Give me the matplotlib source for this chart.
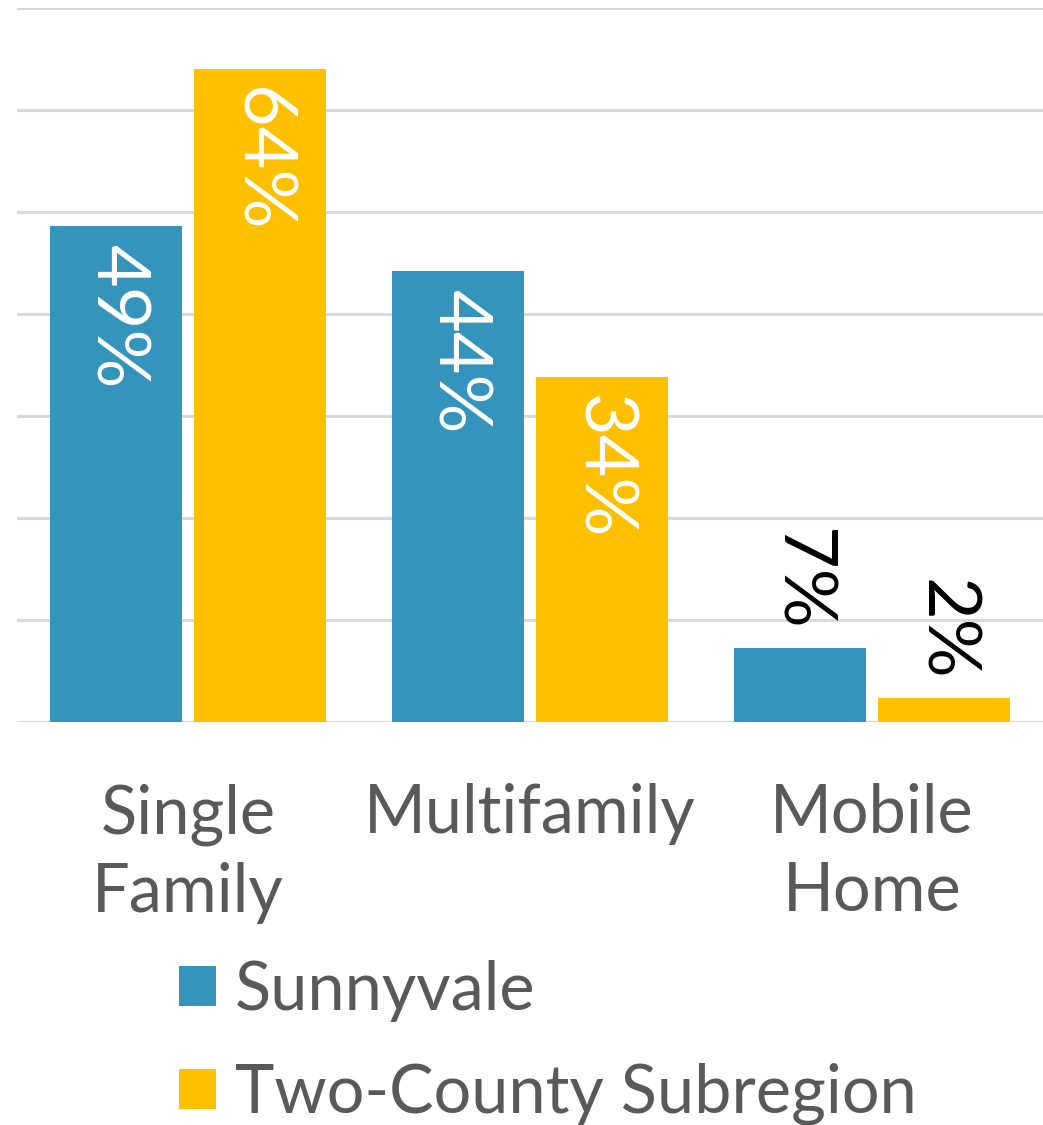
import numpy as np
import matplotlib
matplotlib.use('Agg')
import matplotlib.pyplot as plt

plt.rcParams['font.family'] = ['Lato', 'DejaVu Sans']

categories = ['Single\nFamily', 'Multifamily', 'Mobile\nHome']
series = ['Sunnyvale', 'Two-County Subregion']
sunnyvale = [48.6, 44.2, 7.3]
subregion = [64.0, 33.8, 2.4]
colors = ['#3594BB', '#FFC000']

fig = plt.figure(figsize=(10.43, 11.25), dpi=100)
ax = fig.add_axes([0.0163, 0.3582, 0.9837, 0.6347])

x = np.arange(len(categories))
w = 0.385
off = w / 2 + 0.019
bars = []
for vals, name, col, sgn in zip([sunnyvale, subregion], series, colors, [-1, 1]):
    b = ax.bar(x + sgn * off, vals, w, color=col, label=name, zorder=3)
    bars.append(b)
    for rect, v in zip(b, vals):
        cx = rect.get_x() + rect.get_width() / 2
        if v > 10:
            ax.annotate(f'{round(v)}%', (cx, v), xytext=(0, -13), textcoords='offset points',
                        rotation=-90, ha='center', va='top', color='white', fontsize=53, zorder=4)
        else:
            ax.annotate(f'{round(v)}%', (cx, v), xytext=(0, 12), textcoords='offset points',
                        rotation=-90, ha='center', va='bottom', color='black', fontsize=53, zorder=4)

ax.set_xlim(-0.5, 2.5)
ax.set_ylim(0, 70)
ax.set_yticks(np.arange(0, 71, 10))
ax.yaxis.grid(True, color='#D9D9D9', linewidth=2.2, zorder=0)
ax.set_yticklabels([])
ax.tick_params(axis='y', length=0)
ax.set_xticks(x)
ax.set_xticklabels(categories, fontsize=48, color='#595959', linespacing=1.32)
ax.tick_params(axis='x', length=0, pad=44)
for s in ax.spines.values():
    s.set_visible(False)

leg = fig.legend(handles=bars, labels=series, loc='upper left', bbox_to_anchor=(0.172, 0.147),
                 frameon=False, fontsize=48, labelcolor='#595959', borderpad=0, borderaxespad=0,
                 handlelength=0.55, handleheight=0.55, handletextpad=0.28, labelspacing=0.62)

fig.savefig('out.png', dpi=100)
